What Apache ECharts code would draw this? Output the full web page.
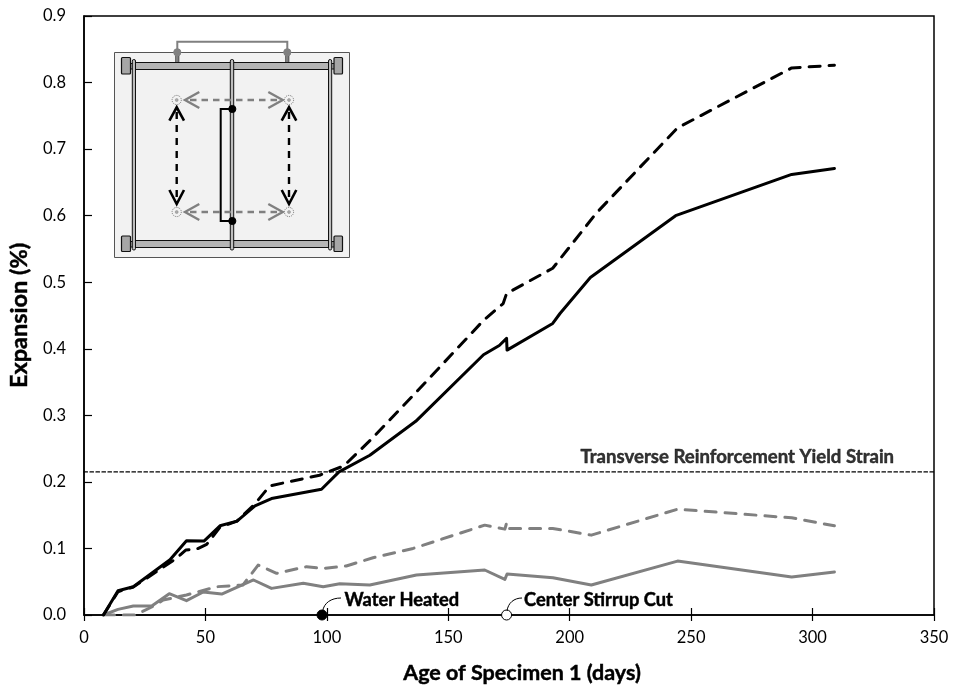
<!DOCTYPE html>
<html><head><meta charset="utf-8">
<style>html,body{margin:0;padding:0;background:#fff}#c{width:956px;height:692px}</style>
<script src="https://cdn.jsdelivr.net/npm/echarts@6/dist/echarts.min.js"></script>
</head><body><div id="c"></div>
<script>
const blackSolidX=[8,14,20.3,35.4,42.2,49.4,56,63,70.4,77.2,97.8,105,117.7,136.6,164.5,171,174,174.2,193,196,208.5,243.6,291.4,309];
const blackSolidY=[0,.0365,.0425,.083,.1117,.111,.134,.141,.164,.175,.189,.215,.24,.291,.391,.405,.4157,.398,.438,.453,.507,.6,.662,.671];
const blackDashX=[8,14,20.3,38,42,46.4,50.5,56,63,70.4,76.5,97,107,118,136.6,164.6,172.6,174,193,211,244.4,291.4,309];
const blackDashY=[0,.035,.042,.085,.0977,.099,.106,.132,.141,.167,.194,.21,.224,.263,.334,.443,.468,.483,.521,.604,.732,.822,.826];
const graySolidX=[8,14,20.3,27.9,35.1,42.2,49.1,56.7,69.8,77.2,90.3,98.5,105.3,117.7,136.9,165,173.3,174.2,193.1,208.9,244.4,291.4,309];
const graySolidY=[0,.0085,.0135,.0135,.032,.0215,.0345,.0315,.0526,.04,.0476,.0425,.047,.045,.06,.0676,.0536,.0616,.056,.045,.081,.057,.0646];
const grayDashX=[8,21,27.9,32.6,42.2,54.6,65.4,71.7,79.3,91.6,98.5,108,119,135.5,165,173.3,174,174.2,193,208.9,244.4,291.4,309];
const grayDashY=[0,0,.012,.0225,.03,.0425,.045,.075,.0626,.0726,.07,.0736,.086,.1,.135,.129,.138,.13,.13,.12,.159,.146,.134];
const yieldX=[0,350];
const yieldY=[.215,.215];
const yieldLabelAge=[269];
const yieldLabel='Transverse Reinforcement Yield Strain';
const eventAges=[98,174];
const eventNames=['Water Heated','Center Stirrup Cut'];
const xTitle='Age of Specimen 1 (days)';
const yTitle='Expansion (%)';
const FONT='Lato';
const BOLD={textBorderColor:'#000',textBorderWidth:0.45};
const zip=(a,b)=>a.map((v,i)=>[v,b[i]]);
const ln=(name,x,y,color,w,type)=>({name,type:'line',data:zip(x,y),symbol:'none',smooth:false,
  lineStyle:{color,width:w,type,cap:'round',join:'round'},z:3,silent:true});
const GR='#808080';

function L(pts,stroke,w,dash){return {type:'polyline',shape:{points:pts},style:{fill:null,stroke,lineWidth:w,lineDash:dash||null},z:10};}
function R(x1,y1,x2,y2,fill,lw,rr){return {type:'rect',shape:{x:x1,y:y1,width:x2-x1,height:y2-y1,r:rr||0},style:{fill,stroke:'#111',lineWidth:lw||1},z:10};}
function C(x,y,r,fill){return {type:'circle',shape:{cx:x,cy:y,r},style:{fill,stroke:fill},z:12};}
function target(x,y){return [
 {type:'circle',shape:{cx:x,cy:y,r:4.6},style:{fill:'#f2f2f2',stroke:'#444',lineWidth:.7,lineDash:[1,1]},z:11},
 {type:'circle',shape:{cx:x,cy:y,r:1.5},style:{fill:'#aaa',stroke:'#888',lineWidth:.5},z:11}];}
const inset=[
 {type:'rect',shape:{x:114.5,y:52.5,width:235,height:205},style:{fill:'#f2f2f2',stroke:'#555',lineWidth:1},z:9},
 L([[177.3,62],[177.3,41.7],[287.3,41.7],[287.3,62]],GR,2),
 L([[175.8,52],[175.8,62]],'#333',1),L([[178.8,52],[178.8,62]],'#333',1),
 L([[285.8,52],[285.8,62]],'#333',1),L([[288.8,52],[288.8,62]],'#333',1),
 R(130,63.5,134,69,'#aaa'),R(330,63.5,335,69,'#aaa'),R(130,241.5,134,247,'#aaa'),R(330,241.5,335,247,'#aaa'),
 R(121.5,57.5,130.5,74,'#a6a6a6',1.2,1),R(334,57.5,342.5,74,'#a6a6a6',1.2,1),
 R(121.5,236,130.5,251.5,'#a6a6a6',1.2,1),R(334,236,342.5,251.5,'#a6a6a6',1.2,1),
 R(135,62.5,330,69.5,'#b5b5b5',1.2),R(135,240.5,330,247.5,'#b5b5b5',1.2),
 R(132.3,59.5,135.5,250,'#bdbdbd',1,1.5),R(328.5,59.5,331.7,250,'#bdbdbd',1,1.5),R(230.3,59.5,233.7,250,'#bdbdbd',1,1.5),
 ...target(176.7,100),...target(289,100),...target(176.7,212),...target(289,212)
];
[100,212].forEach(y=>{inset.push(
 L([[190,y],[278,y]],GR,2.4,[6.5,5]),
 L([[199.3,y-8],[185,y],[199.3,y+8]],GR,2.4),
 L([[268.3,y-8],[282.7,y],[268.3,y+8]],GR,2.4));});
[176.7,289].forEach(x=>{inset.push(
 L([[x,112],[x,200]],'#000',2.4,[7,6]),
 L([[x-7.3,120.7],[x,107.3],[x+7.3,120.7]],'#000',2.6),
 L([[x-7.3,190],[x,204],[x+7.3,190]],'#000',2.6));});
inset.push(
 L([[232.3,109],[220.7,109],[220.7,221],[232.3,221]],'#000',2),
 C(232.3,109,3.6,'#000'),C(232.3,221,3.6,'#000'),
 C(177.3,52.3,3.6,GR),C(287.3,52.3,3.6,GR));
const leaders=[
 {type:'bezierCurve',shape:{x1:322.7,y1:611,cpx1:324,cpy1:603,cpx2:331,cpy2:598,x2:341,y2:598},style:{fill:null,stroke:'#000',lineWidth:1},z:10},
 {type:'bezierCurve',shape:{x1:507,y1:611,cpx1:508,cpy1:603,cpx2:514,cpy2:598,x2:522,y2:598},style:{fill:null,stroke:'#000',lineWidth:1},z:10}
];
const axisCommon={min:0,nameLocation:'middle',nameTextStyle:{fontFamily:FONT,fontWeight:'bold',fontSize:21.5,color:'#000',...BOLD},
 axisLine:{onZero:false,lineStyle:{color:'#000',width:1.5}},splitLine:{show:false},
 axisLabel:{fontFamily:FONT,fontSize:16.5,color:'#000'}};
const chart=echarts.init(document.getElementById('c'),null,{renderer:'canvas'});
chart.setOption({
 animation:false,backgroundColor:'#fff',
 grid:{left:84,right:22,top:16,bottom:77,outerBoundsMode:'none',show:true,borderColor:'#000',borderWidth:1.5,backgroundColor:'transparent'},
 xAxis:[
  {...axisCommon,type:'value',max:350,interval:50,name:xTitle,nameGap:47,
   nameTextStyle:{...axisCommon.nameTextStyle,padding:[0,0,0,26]},
   axisTick:{show:true,inside:false,length:6,lineStyle:{color:'#000',width:1.2}},axisLabel:{...axisCommon.axisLabel,margin:14}},
  {type:'value',min:0,max:350,interval:50,position:'bottom',axisLine:{show:false},splitLine:{show:false},axisLabel:{show:false},
   axisTick:{show:true,inside:true,length:7,lineStyle:{color:'#000',width:1.2}}}
 ],
 yAxis:{...axisCommon,type:'value',max:0.9,interval:0.1,name:yTitle,nameGap:51,
  nameTextStyle:{...axisCommon.nameTextStyle,fontSize:23.5},
  axisTick:{show:true,inside:true,length:8,lineStyle:{color:'#000',width:1.2}},
  axisLabel:{...axisCommon.axisLabel,margin:18,formatter:v=>v.toFixed(1)}},
 series:[
  ln('Yield',yieldX,yieldY,'#000',1.3,[3.5,2.5]),
  ln('Gray dashed',grayDashX,grayDashY,GR,3,[11,9]),
  ln('Gray solid',graySolidX,graySolidY,GR,3,'solid'),
  ln('Black dashed',blackDashX,blackDashY,'#000',3,[11,9]),
  ln('Black solid',blackSolidX,blackSolidY,'#000',3,'solid'),
  {name:'YieldLabel',type:'scatter',data:[[yieldLabelAge[0],yieldY[0]]],symbolSize:0,silent:true,z:6,
   label:{show:true,position:'top',distance:5,formatter:yieldLabel,fontFamily:FONT,fontWeight:'bold',fontSize:18.6,color:'#000',...BOLD}},
  {name:'Events',type:'scatter',clip:false,symbolSize:10,z:8,silent:true,
   itemStyle:{opacity:1},
   data:eventAges.map((a,i)=>({value:[a,0],name:eventNames[i],
     itemStyle:{color:i?'#fff':'#000',borderColor:'#000',borderWidth:1,opacity:1},
     label:{offset:i?[7,-14.5]:[12,-14.5]}})),
   label:{show:true,position:'right',distance:5,formatter:p=>p.name,fontFamily:FONT,fontWeight:'bold',fontSize:18.3,color:'#000',...BOLD}}
 ],
 graphic:{elements:[...inset,...leaders]}
});
</script></body></html>
